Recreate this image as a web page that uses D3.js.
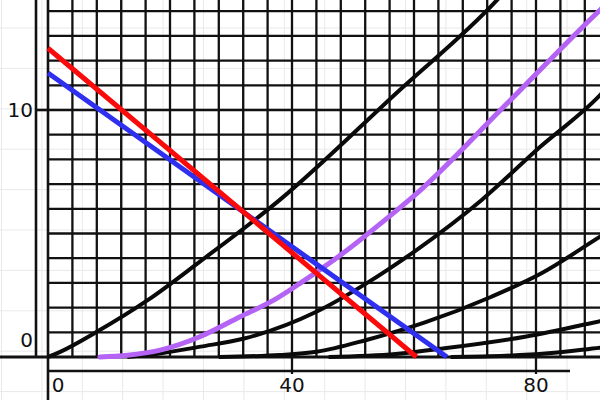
<!DOCTYPE html>
<html>
<head>
<meta charset="utf-8">
<script src="https://cdn.jsdelivr.net/npm/d3@7/dist/d3.min.js"></script>
<style>
html,body{margin:0;padding:0;background:#fff;}
svg{display:block;}
</style>
</head>
<body>
<svg id="chart" width="600" height="400"></svg>
<script>
// ---- data ----
const xTickValues = [0, 40, 80];
const xTickLabels = ["0", "40", "80"];
const yTickValues = [0, 10];
const yTickLabels = ["0", "10"];

// black characteristic curves [x, y]
const curve1 = [[0,0],[2,0.21],[8,1.02],[16.4,2.31],[24.9,3.86],[38,6.36],[57.4,10.75],[73.6,14.45],[76,15.1]];
const curve2 = [[13,0],[18,0.13],[25,0.42],[32,0.74],[44,1.83],[52.2,2.98],[60.4,4.33],[71.1,6.36],[80.7,8.51],[90.5,10.6],[92,11]];
const curve3 = [[28,0],[38,0.08],[44,0.21],[52.2,0.69],[61.8,1.4],[72.7,2.44],[80.9,3.39],[90.5,4.87],[92,5.1]];
const curve4 = [[46,0],[57,0.12],[65,0.35],[78.2,0.82],[90.5,1.45],[92,1.53]];
const curve5 = [[66,0],[75,0.05],[82,0.15],[90.5,0.38],[92,0.42]];
// purple curve
const purpleCurve = [[8.5,0],[13,0.07],[18.4,0.28],[24.9,0.82],[31.5,1.63],[37,2.3],[41.3,2.98],[49,4.32],[55,5.5],[59.8,6.48],[75,10.2],[90.5,14.05],[92,14.4]];
// load lines
const blueLine = [[0,11.5],[65.4,0]];
const redLine = [[0,12.5],[60.4,0]];

// ---- scales ----
const x = d3.scaleLinear().domain([0, 80]).range([48, 536]);
const y = d3.scaleLinear().domain([0, 10]).range([357, 110]);

const svg = d3.select("#chart");

// faint background paper grid
const faint = svg.append("g").attr("stroke", "#e9e9e9").attr("stroke-width", 1);
d3.range(1.5, 600, 40.4).forEach(px => faint.append("line").attr("x1", px).attr("x2", px).attr("y1", 0).attr("y2", 400));
d3.range(28, 400, 40.4).forEach(py => faint.append("line").attr("x1", 0).attr("x2", 600).attr("y1", py).attr("y2", py));

// main grid
const grid = svg.append("g").attr("stroke", "#111").attr("stroke-width", 2.3);
d3.range(4, 92, 4).forEach(v => {
  const ext = (v % 40 === 0) ? 374 : y(0);
  grid.append("line").attr("x1", x(v)).attr("x2", x(v)).attr("y1", 0).attr("y2", ext);
});
d3.range(1, 15, 1).forEach(v => {
  grid.append("line").attr("x1", x(0)).attr("x2", 600).attr("y1", y(v)).attr("y2", y(v));
});

// axes frame
const ax = svg.append("g").attr("stroke", "#111").attr("stroke-width", 2.6);
ax.append("line").attr("x1", x(0)).attr("x2", x(0)).attr("y1", 0).attr("y2", 400);
ax.append("line").attr("x1", 36).attr("x2", 36).attr("y1", 0).attr("y2", y(0));
ax.append("line").attr("x1", 0).attr("x2", 600).attr("y1", y(0)).attr("y2", y(0)).attr("stroke-width", 3.2);
ax.append("line").attr("x1", x(0)).attr("x2", 570).attr("y1", 371).attr("y2", 371);
// y tick at 10
ax.append("line").attr("x1", 36).attr("x2", x(0)).attr("y1", y(10)).attr("y2", y(10));

// labels
const font = "'DejaVu Sans', sans-serif";
xTickValues.forEach((v, i) => {
  svg.append("text").attr("x", x(v) + (v === 0 ? 10 : 0)).attr("y", 392)
    .attr("text-anchor", "middle").attr("font-family", font).attr("font-size", 20)
    .attr("fill", "#111").text(xTickLabels[i]);
});
yTickValues.forEach((v, i) => {
  svg.append("text").attr("x", 33).attr("y", y(v) + (v === 0 ? -10 : 7))
    .attr("text-anchor", "end").attr("font-family", font).attr("font-size", 20)
    .attr("fill", "#111").text(yTickLabels[i]);
});

// curves
const line = d3.line().x(d => x(d[0])).y(d => y(d[1])).curve(d3.curveMonotoneX);
const straight = d3.line().x(d => x(d[0])).y(d => y(d[1]));

[curve1, curve2, curve3, curve4, curve5].forEach(c => {
  svg.append("path").attr("d", line(c)).attr("fill", "none")
    .attr("stroke", "#0a0a0a").attr("stroke-width", 4);
});

svg.append("path").attr("d", line(purpleCurve)).attr("fill", "none")
  .attr("stroke", "#b463f5").attr("stroke-width", 5).attr("stroke-linecap", "round");
svg.append("path").attr("d", straight(blueLine)).attr("fill", "none")
  .attr("stroke", "#2f2ff0").attr("stroke-width", 5);
svg.append("path").attr("d", straight(redLine)).attr("fill", "none")
  .attr("stroke", "#fa0a0a").attr("stroke-width", 5);
</script>
</body>
</html>
